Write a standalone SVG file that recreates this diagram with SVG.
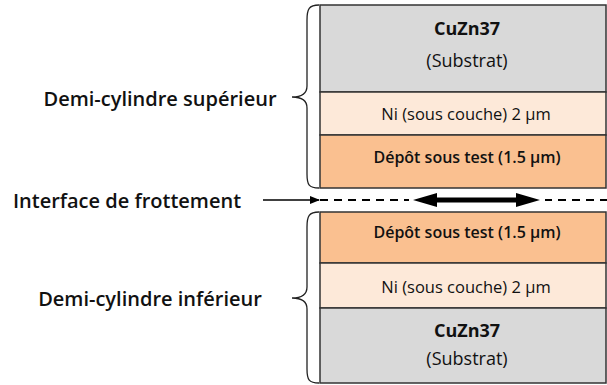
<svg xmlns="http://www.w3.org/2000/svg" width="607" height="385" viewBox="0 0 607 385">
<defs>
<style>
.t{font-family:"Open Sans","Liberation Sans",sans-serif;fill:#111;text-anchor:middle;dominant-baseline:central}
.box{stroke:#333;stroke-width:1.5}
.sub{fill:#d9d9d9}.ni{fill:#fde9d9}.dep{fill:#fac090}
.br{fill:none;stroke:#222;stroke-width:1.3}
</style>
<marker id="ah" markerWidth="10" markerHeight="8" refX="9" refY="4" orient="auto" markerUnits="userSpaceOnUse"><path d="M0,0 L10,4 L0,8 Z" fill="#000"/></marker>
</defs>
<g id="upper">
<rect class="box sub" x="320" y="5" width="286" height="87"/>
<rect class="box ni" x="320" y="92" width="286" height="43"/>
<rect class="box dep" x="320" y="135" width="286" height="53"/>
<text class="t" x="467" y="28" font-size="18" font-weight="700">CuZn37</text>
<text class="t" x="467" y="60" font-size="18">(Substrat)</text>
<text class="t" x="466" y="113" font-size="16.5">Ni (sous couche) 2 µm</text>
<text class="t" x="467" y="157" font-size="16" font-weight="600">Dépôt sous test (1.5 µm)</text>
</g>
<g id="lower">
<rect class="box dep" x="320" y="212" width="286" height="51"/>
<rect class="box ni" x="320" y="263" width="286" height="45"/>
<rect class="box sub" x="320" y="308" width="286" height="75"/>
<text class="t" x="467" y="232" font-size="16" font-weight="600">Dépôt sous test (1.5 µm)</text>
<text class="t" x="466" y="286" font-size="16.5">Ni (sous couche) 2 µm</text>
<text class="t" x="467" y="330" font-size="18" font-weight="700">CuZn37</text>
<text class="t" x="467" y="358" font-size="18">(Substrat)</text>
</g>
<g id="brace-upper">
<path class="br" d="M319,5 C309,5 307,9 307,20 L307,86 C307,94 302,97 292,97 C302,97 307,100 307,108 L307,174 C307,185 309,188 319,188"/>
<text class="t" x="160" y="98" font-size="20" font-weight="600">Demi-cylindre supérieur</text>
</g>
<g id="brace-lower">
<path class="br" d="M319,212 C309,212 307,216 307,227 L307,287 C307,295 302,298 292,298 C302,298 307,301 307,309 L307,369 C307,380 309,383 319,383"/>
<text class="t" x="150" y="298" font-size="20" font-weight="600">Demi-cylindre inférieur</text>
</g>
<g id="interface">
<text class="t" x="127" y="200" font-size="20" font-weight="600">Interface de frottement</text>
</g>
<g id="connectors">
<line x1="263" y1="200" x2="319" y2="200" stroke="#000" stroke-width="1.5" marker-end="url(#ah)"/>
<line x1="320" y1="200" x2="607" y2="200" stroke="#000" stroke-width="1.8" stroke-dasharray="8,6"/>
<rect x="409" y="193" width="136" height="14" fill="#fff"/>
<path d="M413,200 L437,193 L437,197.5 L516,197.5 L516,193 L540,200 L516,207 L516,202.5 L437,202.5 L437,207 Z" fill="#000"/>
</g>
</svg>
